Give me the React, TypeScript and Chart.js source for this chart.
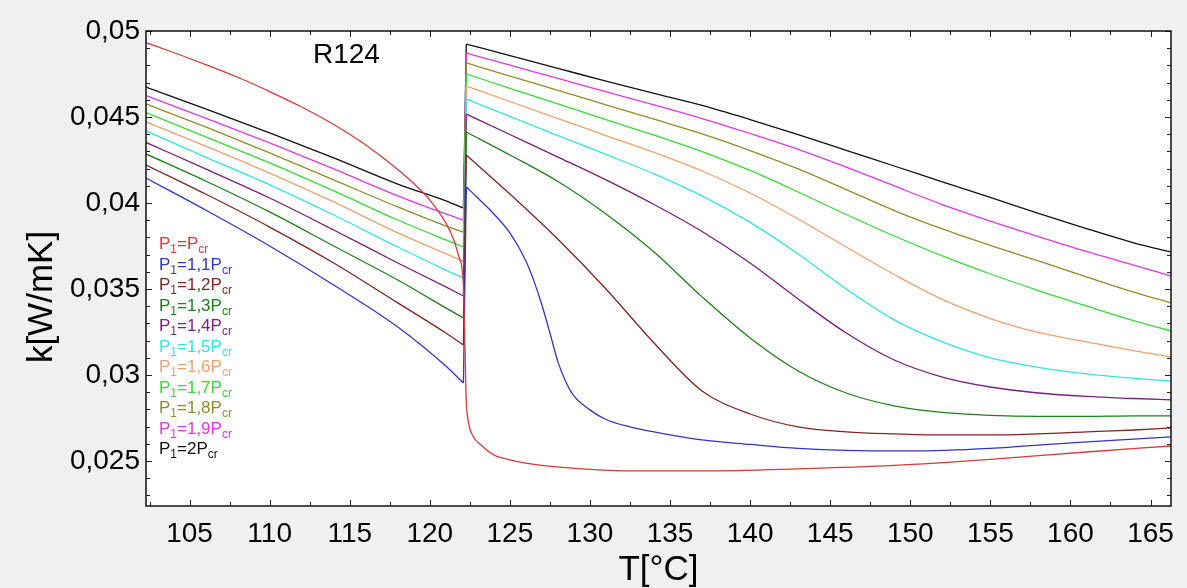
import React, { useEffect, useRef } from 'react';
import { Chart, registerables } from 'chart.js';

Chart.register(...registerables);

const FONT = '"Liberation Sans", Arial, Helvetica, sans-serif';

const CHART_TITLE = 'R124';
const X_TITLE = 'T[°C]';
const Y_TITLE = 'k[W/mK]';

const X_MIN = 102.28;
const X_MAX = 166.28;
const X_STEP = 5;
const X_MINOR = 2.5;
const Y_MIN = 0.02238;
const Y_MAX = 0.05;
const Y_STEP = 0.005;
const Y_MINOR = 0.001;

// temperature grids
const T_LIQ = [102.28, 106, 110, 114, 118, 121, 122.1];
const T_VAP = [122.28, 125, 128, 131, 134, 137, 140, 143, 146, 149, 152, 155, 158, 161, 164, 166.28];
const T_RED = [102.28, 104, 106, 108, 110, 112, 114, 116, 118, 119, 120, 121, 121.5, 121.8, 122.1, 122.2, 122.26, 122.4, 122.7, 123.2, 124, 125, 127, 130, 133, 137, 143, 149, 155, 161, 166.28];
const T_BLUE_VAP = [122.28, 123, 124, 125, 126, 126.5, 127, 127.5, 128, 128.5, 129, 130, 131, 132.5, 134, 137, 140, 143, 146, 150, 155, 160, 166.28];

// P1 = Pcr
const K_10 = [0.04932, 0.04875, 0.04805, 0.04731, 0.04648, 0.04558, 0.04456, 0.04337, 0.04195, 0.04113, 0.04017, 0.03884, 0.03785, 0.03692, 0.03523, 0.03145, 0.02884, 0.02733, 0.02645, 0.02593, 0.02535, 0.02506, 0.02474, 0.02451, 0.02442, 0.02442, 0.02454, 0.02474, 0.02509, 0.02552, 0.02587];
// P1 = 1,1 Pcr
const K_11_LIQ = [0.04145, 0.03959, 0.03750, 0.03523, 0.03279, 0.03052, 0.02953];
const K_11_VAP = [0.04093, 0.04029, 0.03936, 0.03826, 0.03663, 0.03547, 0.03407, 0.03244, 0.03076, 0.02959, 0.02878, 0.02797, 0.02741, 0.02698, 0.02669, 0.02622, 0.02596, 0.02573, 0.02561, 0.02558, 0.02573, 0.02605, 0.02640];
// P1 = 1,2 Pcr
const K_12_LIQ = [0.04221, 0.04052, 0.03860, 0.03651, 0.03419, 0.03244, 0.03174];
const K_12_VAP = [0.04279, 0.04052, 0.03789, 0.03500, 0.03186, 0.02907, 0.02773, 0.02698, 0.02669, 0.02657, 0.02651, 0.02651, 0.02657, 0.02669, 0.02680, 0.02692];
// P1 = 1,3 Pcr
const K_13_LIQ = [0.04285, 0.04128, 0.03948, 0.03750, 0.03552, 0.03390, 0.03331];
const K_13_VAP = [0.04413, 0.04279, 0.04125, 0.03936, 0.03715, 0.03454, 0.03215, 0.03023, 0.02895, 0.02820, 0.02782, 0.02765, 0.02759, 0.02759, 0.02762, 0.02762];
// P1 = 1,4 Pcr
const K_14_LIQ = [0.04352, 0.04198, 0.04029, 0.03843, 0.03651, 0.03512, 0.03459];
const K_14_VAP = [0.04517, 0.04398, 0.04267, 0.04134, 0.03991, 0.03834, 0.03651, 0.03442, 0.03244, 0.03087, 0.02988, 0.02930, 0.02895, 0.02875, 0.02863, 0.02855];
// P1 = 1,5 Pcr
const K_15_LIQ = [0.04419, 0.04267, 0.04105, 0.03930, 0.03744, 0.03610, 0.03564];
const K_15_VAP = [0.04605, 0.04503, 0.04392, 0.04282, 0.04169, 0.04041, 0.03887, 0.03703, 0.03500, 0.03320, 0.03192, 0.03099, 0.03044, 0.03006, 0.02980, 0.02965];
// P1 = 1,6 Pcr
const K_16_LIQ = [0.04471, 0.04331, 0.04174, 0.04006, 0.03826, 0.03705, 0.03660];
const K_16_VAP = [0.04680, 0.04590, 0.04491, 0.04392, 0.04294, 0.04186, 0.04058, 0.03907, 0.03744, 0.03584, 0.03439, 0.03328, 0.03247, 0.03192, 0.03140, 0.03105];
// P1 = 1,7 Pcr
const K_17_LIQ = [0.04526, 0.04384, 0.04233, 0.04070, 0.03901, 0.03785, 0.03744];
const K_17_VAP = [0.04750, 0.04667, 0.04576, 0.04484, 0.04394, 0.04299, 0.04189, 0.04064, 0.03933, 0.03808, 0.03692, 0.03587, 0.03491, 0.03401, 0.03314, 0.03256];
// P1 = 1,8 Pcr
const K_18_LIQ = [0.04576, 0.04442, 0.04291, 0.04134, 0.03977, 0.03866, 0.03831];
const K_18_VAP = [0.04814, 0.04738, 0.04655, 0.04571, 0.04487, 0.04402, 0.04305, 0.04198, 0.04078, 0.03956, 0.03849, 0.03753, 0.03663, 0.03570, 0.03480, 0.03419];
// P1 = 1,9 Pcr
const K_19_LIQ = [0.04624, 0.04494, 0.04349, 0.04198, 0.04041, 0.03936, 0.03901];
const K_19_VAP = [0.04872, 0.04802, 0.04724, 0.04647, 0.04570, 0.04491, 0.04404, 0.04312, 0.04209, 0.04099, 0.03991, 0.03895, 0.03805, 0.03718, 0.03637, 0.03576];
// P1 = 2 Pcr
const K_20_LIQ = [0.04674, 0.04547, 0.04407, 0.04262, 0.04110, 0.04012, 0.03971];
const K_20_VAP = [0.04924, 0.04857, 0.04783, 0.04708, 0.04637, 0.04567, 0.04485, 0.04398, 0.04306, 0.04215, 0.04123, 0.04032, 0.03940, 0.03851, 0.03767, 0.03715];

const LEGEND_COEF = ['', '1,1', '1,2', '1,3', '1,4', '1,5', '1,6', '1,7', '1,8', '1,9', '2'];
const COLORS = ['#d23c3c', '#3434c8', '#7e2626', '#1f7f1f', '#7a1f7a', '#36e2e2', '#f0a070', '#38d838', '#908c2c', '#e038e0', '#111111'];

type Pt = { x: number; y: number };
const pts = (ts: number[], ks: number[]): Pt[] => ts.map((t, i) => ({ x: t, y: ks[i] }));

// each series: list of pieces (liquid branch, jump at saturation, vapour branch)
const split = (liq: number[], tv: number[], vap: number[]): Pt[][] => {
  const a = pts(T_LIQ, liq);
  const b = pts(tv, vap);
  return [a, [a[a.length - 1], b[0]], b];
};

const SERIES: Pt[][][] = [
  [pts(T_RED, K_10)],
  split(K_11_LIQ, T_BLUE_VAP, K_11_VAP),
  split(K_12_LIQ, T_VAP, K_12_VAP),
  split(K_13_LIQ, T_VAP, K_13_VAP),
  split(K_14_LIQ, T_VAP, K_14_VAP),
  split(K_15_LIQ, T_VAP, K_15_VAP),
  split(K_16_LIQ, T_VAP, K_16_VAP),
  split(K_17_LIQ, T_VAP, K_17_VAP),
  split(K_18_LIQ, T_VAP, K_18_VAP),
  split(K_19_LIQ, T_VAP, K_19_VAP),
  split(K_20_LIQ, T_VAP, K_20_VAP),
];

const fmt = (v: number) => String(Number(v.toFixed(4))).replace('.', ',');

const decorPlugin = {
  id: 'decor',
  beforeDraw(chart: any) {
    const { ctx, chartArea: a, width, height } = chart;
    ctx.save();
    ctx.fillStyle = '#f0f0f0';
    ctx.fillRect(0, 0, width, height);
    ctx.fillStyle = '#ffffff';
    ctx.fillRect(a.left, a.top, a.right - a.left, a.bottom - a.top);
    ctx.restore();
  },
  afterDraw(chart: any) {
    const { ctx, chartArea: a } = chart;
    const xs = chart.scales.x;
    const ys = chart.scales.y;
    ctx.save();
    // ticks, inward on all sides
    ctx.strokeStyle = '#222';
    ctx.lineWidth = 1;
    ctx.beginPath();
    for (let v = Math.ceil(X_MIN / X_MINOR) * X_MINOR; v <= X_MAX + 1e-9; v += X_MINOR) {
      const major = Math.abs(v / X_STEP - Math.round(v / X_STEP)) < 1e-6;
      const len = major ? 6 : 4;
      const px = Math.round(xs.getPixelForValue(v)) + 0.5;
      ctx.moveTo(px, a.bottom); ctx.lineTo(px, a.bottom - len);
      ctx.moveTo(px, a.top); ctx.lineTo(px, a.top + len);
    }
    for (let i = Math.ceil(Y_MIN / Y_MINOR); i * Y_MINOR <= Y_MAX + 1e-9; i++) {
      const v = i * Y_MINOR;
      const major = i % Math.round(Y_STEP / Y_MINOR) === 0;
      const len = major ? 6 : 4;
      const py = Math.round(ys.getPixelForValue(v)) + 0.5;
      ctx.moveTo(a.left, py); ctx.lineTo(a.left + len, py);
      ctx.moveTo(a.right, py); ctx.lineTo(a.right - len, py);
    }
    ctx.stroke();
    // frame
    ctx.strokeStyle = '#111';
    ctx.lineWidth = 1.5;
    ctx.strokeRect(a.left, a.top, a.right - a.left, a.bottom - a.top);

    // chart title inside plot
    ctx.fillStyle = '#000';
    ctx.font = `28px ${FONT}`;
    ctx.textAlign = 'left';
    ctx.textBaseline = 'alphabetic';
    ctx.fillText(CHART_TITLE, a.left + 167, a.top + 32);

    // axis titles
    ctx.font = `35px ${FONT}`;
    ctx.textAlign = 'center';
    ctx.fillText(X_TITLE, (a.left + a.right) / 2, 580);
    ctx.save();
    ctx.translate(52, 297);
    ctx.rotate(-Math.PI / 2);
    ctx.fillText(Y_TITLE, 0, 0);
    ctx.restore();

    // legend with subscripts
    ctx.textAlign = 'left';
    LEGEND_COEF.forEach((coef, i) => {
      const base = a.top + 212 + i * 20.5 + 6;
      let x = a.left + 13;
      ctx.fillStyle = COLORS[i];
      ctx.font = `17px ${FONT}`;
      ctx.fillText('P', x, base);
      x += ctx.measureText('P').width;
      ctx.font = `12px ${FONT}`;
      ctx.fillText('1', x, base + 4);
      x += ctx.measureText('1').width;
      ctx.font = `17px ${FONT}`;
      const mid = '=' + coef + 'P';
      ctx.fillText(mid, x, base);
      x += ctx.measureText(mid).width;
      ctx.font = `12px ${FONT}`;
      ctx.fillText('cr', x, base + 4);
    });
    ctx.restore();
  },
};

export default function App() {
  const ref = useRef<HTMLCanvasElement | null>(null);
  useEffect(() => {
    if (!ref.current) return;
    const datasets: any[] = [];
    SERIES.forEach((pieces, i) => {
      pieces.forEach((data, j) => {
        datasets.push({
          label: 'P1=' + LEGEND_COEF[i] + 'Pcr' + (j ? ' #' + j : ''),
          data,
          borderColor: COLORS[i],
          backgroundColor: COLORS[i],
          borderWidth: 1.3,
          pointRadius: 0,
          fill: false,
          cubicInterpolationMode: 'monotone',
        });
      });
    });
    const chart = new Chart(ref.current, {
      type: 'line',
      data: { datasets },
      options: {
        responsive: false,
        maintainAspectRatio: false,
        animation: false,
        devicePixelRatio: 1,
        layout: { autoPadding: false, padding: { top: 31, right: 16, left: 0, bottom: 0 } },
        plugins: { legend: { display: false }, tooltip: { enabled: false } },
        scales: {
          x: {
            type: 'linear',
            min: X_MIN,
            max: X_MAX,
            grid: { display: false, drawTicks: false },
            border: { display: false },
            ticks: {
              stepSize: X_STEP,
              includeBounds: false,
              autoSkip: false,
              maxRotation: 0,
              padding: 11,
              color: '#000',
              font: { family: FONT, size: 28 },
              callback: (v: any) => fmt(Number(v)),
            },
            afterFit: (s: any) => { s.height = 82; },
          },
          y: {
            type: 'linear',
            min: Y_MIN,
            max: Y_MAX,
            grid: { display: false, drawTicks: false },
            border: { display: false },
            ticks: {
              stepSize: Y_STEP,
              includeBounds: false,
              autoSkip: false,
              padding: 6,
              color: '#000',
              font: { family: FONT, size: 28 },
              callback: (v: any) => fmt(Number(v)),
            },
            afterFit: (s: any) => { s.width = 146; },
          },
        },
      },
      plugins: [decorPlugin],
    });
    return () => chart.destroy();
  }, []);
  return (
    <canvas
      ref={ref}
      width={1187}
      height={588}
      style={{ position: 'absolute', left: 0, top: 0, display: 'block' }}
    />
  );
}
